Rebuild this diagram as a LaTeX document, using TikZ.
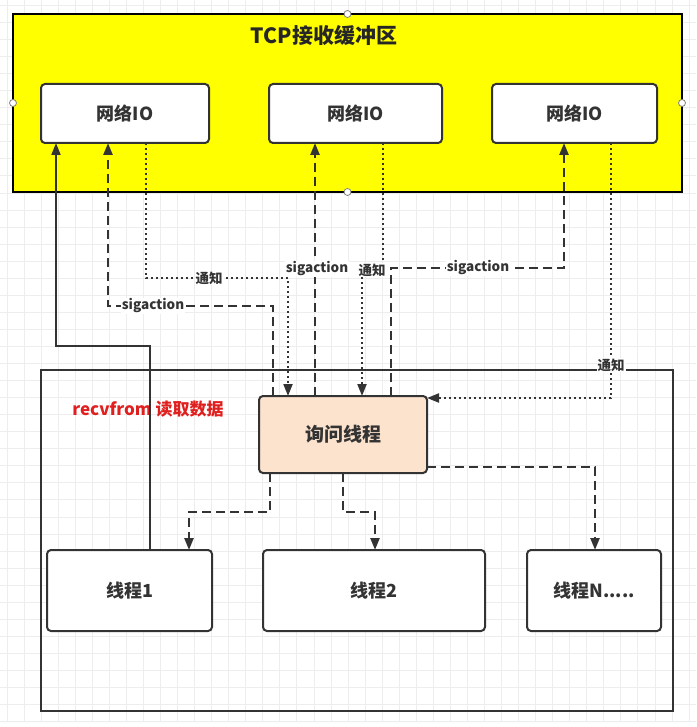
\documentclass[tikz,border=0pt]{standalone}
\usepackage{fontspec}
\setmainfont{Noto Sans CJK SC}
\usetikzlibrary{arrows.meta}
\definecolor{ln}{HTML}{333333}
\definecolor{gridc}{HTML}{EDEDED}
\definecolor{buff}{HTML}{FFFF00}
\definecolor{peach}{HTML}{FCE3CD}
\definecolor{redt}{HTML}{E0201F}
\tikzset{
  box/.style={draw=ln, line width=2pt, rounded corners=4pt, fill=white, anchor=north west,
    inner sep=0pt, outer sep=0pt, text=ln, font=\bfseries\fontsize{18}{21}\selectfont},
  bufbox/.style={draw=black, line width=2pt, fill=buff, anchor=north west, inner sep=0pt, outer sep=0pt},
  outerbox/.style={draw=ln, line width=2pt, anchor=north west, inner sep=0pt, outer sep=0pt},
  handle/.style={circle, draw=gray, fill=white, line width=0.8pt, minimum size=7pt, inner sep=0pt},
  lab/.style={fill=white, inner sep=1pt, text=ln, font=\bfseries\fontsize{13.5}{16}\selectfont},
  tip/.style={-{Triangle[length=12pt,width=9pt]}},
  solidarr/.style={draw=ln, line width=2pt, tip},
  dasharr/.style={draw=ln, line width=2.4pt, dash pattern=on 9pt off 5pt, tip},
  dotarr/.style={draw=ln, line width=2pt, dash pattern=on 2pt off 3pt, tip},
}
\begin{document}
\begin{tikzpicture}[x=1pt,y=-1pt]
\useasboundingbox (0,0) rectangle (696,727);
\fill[white] (0,0) rectangle (696,727);
\foreach \i in {0,...,40} {\draw[gridc, line width=0.8pt] ({7+\i*17.05},0) -- ({7+\i*17.05},722);}
\foreach \j in {0,...,42} {\draw[gridc, line width=0.8pt] (0,{5.4+\j*17.05}) -- (696,{5.4+\j*17.05});}

% buffer area
\node[bufbox, minimum width=669pt, minimum height=178pt] (buf) at (13,14) {};
\node[text=black!85, font=\bfseries\fontsize{21}{25}\selectfont] (title) at (324,36) {TCP接收缓冲区};
\node[handle] (h1) at (buf.north) {};
\node[handle] (h2) at (buf.west) {};
\node[handle] (h3) at (buf.east) {};
\node[handle] (h4) at (buf.south) {};

\node[box, minimum width=168pt, minimum height=59pt] (io1) at (41,84) {网络IO};
\node[box, minimum width=173pt, minimum height=59pt] (io2) at (269,84) {网络IO};
\node[box, minimum width=165pt, minimum height=59pt] (io3) at (492,84) {网络IO};

% lower area
\node[outerbox, minimum width=632pt, minimum height=341pt] (low) at (41,370) {};
\node[box, fill=peach, minimum width=168pt, minimum height=77pt, font=\bfseries\fontsize{19}{22}\selectfont] (q) at (259,396) {询问线程};
\node[box, minimum width=165pt, minimum height=81pt] (t1) at (47,550) {线程1};
\node[box, minimum width=222pt, minimum height=81pt] (t2) at (263,550) {线程2};
\node[box, minimum width=134pt, minimum height=81pt] (tn) at (527,550) {线程N.....};
\node[text=redt, font=\bfseries\fontsize{17}{20}\selectfont] (rf) at (148,409) {recvfrom 读取数据};

% connectors to network IO
\draw[solidarr] (150,0 |- t1.north) -- (150,346) -- (56,346) -- (56,0 |- io1.south);
\draw[dasharr] (273,0 |- q.north) -- (273,306) -- (108,306) -- (108,0 |- io1.south);
\draw[dotarr] (146,0 |- io1.south) -- (146,278) -- (288,278) -- (288,0 |- q.north);
\draw[dasharr] (315,0 |- q.north) -- (315,0 |- io2.south);
\draw[dotarr] (383,0 |- io2.south) -- (383,270) -- (362,270) -- (362,0 |- q.north);
\draw[dasharr] (391,0 |- q.north) -- (391,268) -- (564,268) -- (564,0 |- io3.south);
\draw[dotarr] (611,0 |- io3.south) -- (611,398) -- (q.north east |- 0,398);

\node[lab] (l1) at (153,306) {sigaction};
\node[lab] (l2) at (209,278) {通知};
\node[lab] (l3) at (317,269) {sigaction};
\node[lab] (l4) at (372,270) {通知};
\node[lab] (l5) at (478,268) {sigaction};
\node[lab] (l6) at (611,365) {通知};

% connectors to threads
\draw[dasharr] (270,0 |- q.south) -- (270,512) -- (189,512) -- (189,0 |- t1.north);
\draw[dasharr] (343,0 |- q.south) -- (343,512) -- (375,512) -- (375,0 |- t2.north);
\draw[dasharr] (q.east |- 0,467) -- (595,467) -- (595,0 |- tn.north);
\end{tikzpicture}
\end{document}
